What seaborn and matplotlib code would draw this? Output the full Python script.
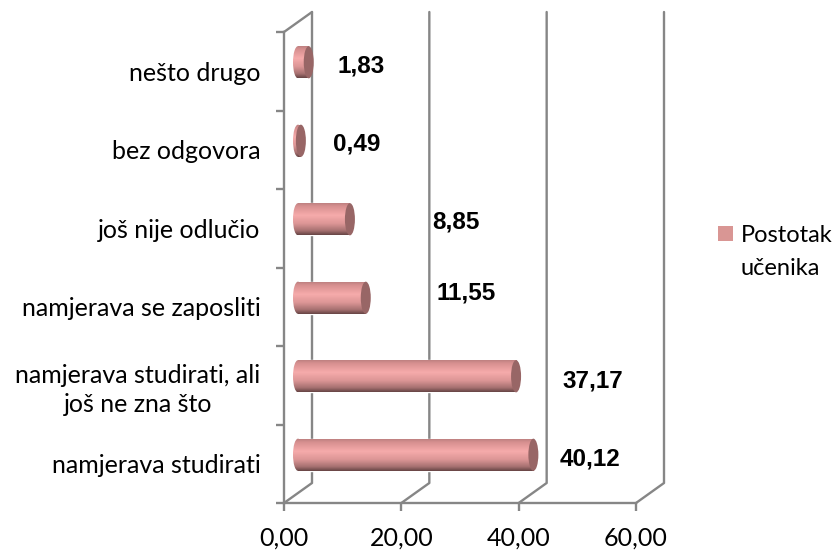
import pandas as pd
import seaborn as sns
import matplotlib.pyplot as plt
from matplotlib.colors import LinearSegmentedColormap
from matplotlib.patches import Ellipse, Patch
import numpy as np

categories = ['nešto drugo', 'bez odgovora', 'još nije odlučio', 'namjerava se zaposliti',
              'namjerava studirati, ali\njoš ne zna što', 'namjerava studirati']
values = [1.83, 0.49, 8.85, 11.55, 37.17, 40.12]
x_ticks = [0, 20, 40, 60]
series_name = ['Postotak', 'učenika']

W, H = 836, 552
grey = '#868686'

sns.set_theme(style='white')
plt.rcParams['font.family'] = ['Lato', 'DejaVu Sans']

def px_rect(left, right, top, bottom):
    return [left / W, 1 - bottom / H, (right - left) / W, (bottom - top) / H]

fig = plt.figure(figsize=(W / 100, H / 100), dpi=100, facecolor='white')

# front axes: the flat 0-60 plane
ax = fig.add_axes(px_rect(284, 636, 32, 503))
ax.set_xlim(0, 60)
ax.set_ylim(5.5, -0.5)
ax.patch.set_visible(False)
for s in ['top', 'right']:
    ax.spines[s].set_visible(False)
for s in ['left', 'bottom']:
    ax.spines[s].set_color(grey)
    ax.spines[s].set_linewidth(1.7)

ax.set_xticks(x_ticks)
ax.set_xticklabels(['%d,00' % t for t in x_ticks], fontsize=18, color='black')
ax.set_yticks(np.arange(-0.5, 6, 1))
ax.set_yticklabels([])
ax.set_yticks(range(len(categories)), minor=True)
ax.set_yticklabels(categories, minor=True, fontsize=18, color='black', ma='center', linespacing=1.3)
ax.tick_params(axis='both', which='major', length=6, width=1.7, color=grey, left=True, bottom=True)
ax.tick_params(axis='x', pad=11)
ax.tick_params(axis='y', which='minor', length=0, pad=17, left=False)

# walls and floor lines going back in depth
dx = 28 / (352 / 60)
dy = 20 / (471 / 6)
for t in x_ticks:
    ax.plot([t, t + dx, t + dx], [5.5, 5.5 - dy, -0.5 - dy], color=grey, lw=1.7, clip_on=False)
ax.plot([0, dx], [-0.5, -0.5 - dy], color=grey, lw=1.7, clip_on=False)

# bars sit half way into the depth
pad = 3
scale = 352 / 60
ax_bars = fig.add_axes(px_rect(298 - pad * scale, 650, 23, 494))
ax_bars.patch.set_visible(False)
df = pd.DataFrame({'category': categories, 'value': values})
sns.barplot(data=df, x='value', y='category', orient='h', width=0.41, color='#e8a0a0',
            saturation=1, ax=ax_bars)
ax_bars.axis('off')

shade = LinearSegmentedColormap.from_list('cyl', [(0, '#b87c7c'), (0.12, '#d79090'), (0.4, '#f6abab'),
                                                  (0.65, '#dd9696'), (0.87, '#a87272'), (1, '#684646')])
grad = np.linspace(0, 1, 64).reshape(-1, 1)
cap_w = 10 / scale

for bar, val in zip(ax_bars.patches, values):
    y0, h = bar.get_y(), bar.get_height()
    yc = y0 + h / 2
    body = ax_bars.imshow(grad, cmap=shade, aspect='auto', zorder=3,
                          extent=(0, val, y0 + h, y0))
    body.set_clip_path(bar)
    left_cap = Ellipse((0, yc), cap_w, h, facecolor='none', edgecolor='none', zorder=3)
    ax_bars.add_patch(left_cap)
    cap_img = ax_bars.imshow(grad, cmap=shade, aspect='auto', zorder=3,
                             extent=(-cap_w / 2, cap_w / 2, y0 + h, y0))
    cap_img.set_clip_path(left_cap)
    ax_bars.add_patch(Ellipse((val, yc), cap_w, h, facecolor='#986666', edgecolor='none', zorder=4))
ax_bars.set_xlim(-pad, 60)
ax_bars.set_ylim(5.5, -0.5)

# data labels were dragged by hand in the original, so they sit at their own spots
label_x = [361, 357, 456, 466, 593, 590]
label_y = [66, 144, 222, 293, 381, 459]
for val, lx, ly in zip(values, label_x, label_y):
    fig.text(lx / W, 1 - ly / H, ('%.2f' % val).replace('.', ','), ha='center', va='center',
             fontsize=17.5, fontweight='bold', family='Liberation Sans', color='black')

# second line of the legend name is an entry with an empty handle
leg = fig.legend(handles=[Patch(facecolor='#d99694', edgecolor='none'), Patch(facecolor='none', edgecolor='none')],
                 labels=series_name, loc='upper left', bbox_to_anchor=(718 / W, 1 - 225 / H), frameon=False,
                 fontsize=17, handlelength=0.62, handleheight=0.62, handletextpad=0.35,
                 labelspacing=0.52, borderpad=0, borderaxespad=0)
for txt in leg.get_texts():
    txt.set_color('black')

plt.savefig('out.png', dpi=100)
